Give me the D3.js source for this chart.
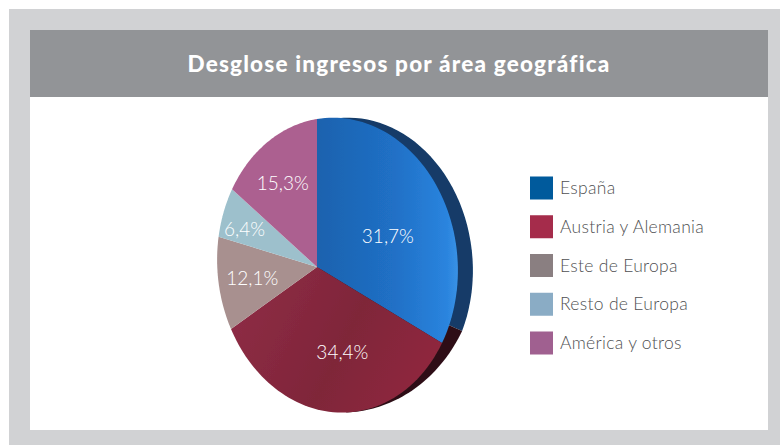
<!doctype html>
<html>
<head>
<meta charset="utf-8">
<script src="https://d3js.org/d3.v7.min.js"></script>
<style>
  html, body { margin: 0; padding: 0; background: #fff; }
  svg { display: block; font-family: Lato, "Open Sans", sans-serif; }
</style>
</head>
<body>
<svg width="780" height="445"></svg>
<script>
// data
var titleText = "Desglose ingresos por área geográfica";
var categories = ["España", "Austria y Alemania", "Este de Europa", "Resto de Europa", "América y otros"];
var shares = [31.7, 34.4, 12.1, 6.4, 15.3];
var shareLabels = ["31,7%", "34,4%", "12,1%", "6,4%", "15,3%"];
var legendColors = ["#005a9c", "#a52c4b", "#8a7f81", "#8aacc5", "#a06090"];
var faceColors = ["url(#blueFace)", "url(#redFace)", "#a8908f", "#9dc0cc", "#ac6190"];

var svg = d3.select("svg");

// frame
svg.append("rect").attr("x", 9).attr("y", 9).attr("width", 771).attr("height", 436).attr("fill", "#d1d2d4");
svg.append("rect").attr("x", 30).attr("y", 30).attr("width", 738).attr("height", 400).attr("fill", "#fff");
svg.append("rect").attr("x", 30).attr("y", 30).attr("width", 738).attr("height", 67).attr("fill", "#929497");
svg.append("text")
  .attr("x", 399).attr("y", 72)
  .attr("text-anchor", "middle")
  .attr("fill", "#fff")
  .style("font-size", "22.5px").style("font-weight", 900).style("letter-spacing", "1.2px")
  .text(titleText);

// gradients for the two big slices
var defs = svg.append("defs");
function gradient(id, x1, y1, x2, y2, stops) {
  var g = defs.append("linearGradient").attr("id", id).attr("gradientUnits", "userSpaceOnUse")
    .attr("x1", x1).attr("y1", y1).attr("x2", x2).attr("y2", y2);
  stops.forEach(function (s) { g.append("stop").attr("offset", s[0]).attr("stop-color", s[1]); });
}
gradient("blueFace", 317, 230, 458, 230, [[0, "#1c62ae"], [0.55, "#2070c6"], [0.92, "#2a84de"], [1, "#3a92e6"]]);
gradient("redFace", 240, 300, 440, 400, [[0, "#8d2c45"], [0.5, "#7f2539"], [1, "#93293f"]]);
defs.append("filter").attr("id", "soft").append("feGaussianBlur").attr("stdDeviation", 0.6);

// the disc is seen in perspective: homography from the unit circle to the picture
function solve(A, b) {
  var n = b.length, M = A.map(function (r, i) { return r.concat(b[i]); });
  for (var i = 0; i < n; i++) {
    var p = i;
    for (var k = i + 1; k < n; k++) if (Math.abs(M[k][i]) > Math.abs(M[p][i])) p = k;
    var t = M[i]; M[i] = M[p]; M[p] = t;
    for (var k2 = 0; k2 < n; k2++) {
      if (k2 === i) continue;
      var f = M[k2][i] / M[i][i];
      for (var j = i; j <= n; j++) M[k2][j] -= f * M[i][j];
    }
  }
  return M.map(function (r, i) { return r[n] / r[i]; });
}
function homography(pairs) {
  var A = [], b = [];
  pairs.forEach(function (p) {
    var u = p[0], v = p[1], x = p[2], y = p[3];
    A.push([u, v, 1, 0, 0, 0, -u * x, -v * x]); b.push(x);
    A.push([0, 0, 0, u, v, 1, -u * y, -v * y]); b.push(y);
  });
  return solve(A, b);
}
var pie = d3.pie().sort(null)(shares);
var H = homography([
  [0, 0, 317, 267],
  [0, -1, 317, 119],
  [Math.sin(pie[0].endAngle), -Math.cos(pie[0].endAngle), 442, 343],
  [Math.sin(pie[1].endAngle), -Math.cos(pie[1].endAngle), 231, 329]
]);
function project(angle, r) {
  var u = r * Math.sin(angle), v = -r * Math.cos(angle), w = H[6] * u + H[7] * v + 1;
  return [(H[0] * u + H[1] * v + H[2]) / w, (H[3] * u + H[4] * v + H[5]) / w];
}
function slicePath(d) {
  var pts = [project(0, 0)];
  d3.range(0, 61).forEach(function (i) {
    pts.push(project(d.startAngle + (d.endAngle - d.startAngle) * i / 60, 1));
  });
  return d3.line()(pts) + "Z";
}

var color = d3.scaleOrdinal().domain(categories).range(faceColors);
var chart = svg.append("g").attr("filter", "url(#soft)");

// thickness: rim pushed right, tapering to nothing along the red slice
var sideTurn = pie[0].endAngle - 0.08;
var sideEnd = pie[0].endAngle + 0.9;
var sideWidth = d3.scaleLinear().domain([sideTurn, sideEnd]).range([15, 0]).clamp(true);
function sidePath(a0, a1) {
  var pts = [project(0, 0)];
  d3.range(0, 41).forEach(function (i) {
    var a = a0 + (a1 - a0) * i / 40, p = project(a, 1);
    pts.push([p[0] + sideWidth(a), p[1]]);
  });
  return d3.line()(pts) + "Z";
}
chart.append("path").attr("d", sidePath(0, sideTurn)).attr("fill", "#123a68");
chart.append("path").attr("d", sidePath(sideTurn, sideEnd)).attr("fill", "#2e1018");

chart.append("g").selectAll("path").data(pie).enter().append("path")
  .attr("d", slicePath)
  .attr("fill", function (d, i) { return color(categories[i]); });

// labels
var labelRadius = [0.6, 0.57, 0.72, 0.82, 0.62];
var labelNudge = [[6, 18], [21, 3], [9, -1], [6, 8], [-2, -5]];
svg.append("g").selectAll("text").data(pie).enter().append("text")
  .attr("transform", function (d, i) {
    var p = project((d.startAngle + d.endAngle) / 2, labelRadius[i]);
    return "translate(" + (p[0] + labelNudge[i][0]) + "," + (p[1] + labelNudge[i][1]) + ")";
  })
  .attr("dy", "0.35em")
  .attr("text-anchor", "middle")
  .attr("fill", "#fff")
  .style("font-size", "19px").style("font-weight", 300)
  .text(function (d, i) { return shareLabels[i]; });

// legend
var legendY = d3.scalePoint().domain(categories).range([188, 343]);
var legendFill = d3.scaleOrdinal().domain(categories).range(legendColors);
var legend = svg.append("g").selectAll("g").data(categories).enter().append("g")
  .attr("transform", function (d) { return "translate(530," + legendY(d) + ")"; });
legend.append("rect").attr("y", -11.5).attr("width", 23).attr("height", 23)
  .attr("fill", function (d) { return legendFill(d); });
legend.append("text").attr("x", 30).attr("dy", "0.35em")
  .attr("fill", "#4f5052")
  .style("font-size", "17.5px").style("font-weight", 300).style("letter-spacing", "0.3px")
  .text(function (d) { return d; });
</script>
</body>
</html>
